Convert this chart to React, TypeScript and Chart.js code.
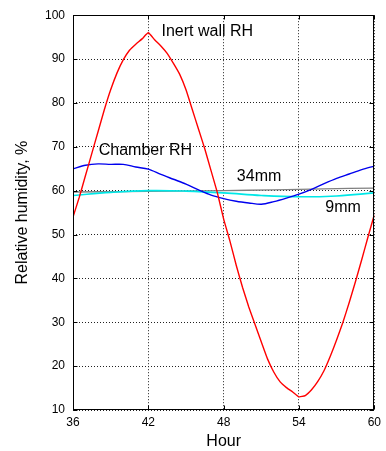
import React, { useEffect, useRef } from "react";
import { Chart, registerables } from "chart.js";

Chart.register(...registerables);

// Inert wall RH (every half hour)
const hoursHalf = [
  36, 36.5, 37, 37.5, 38, 38.5, 39, 39.5, 40, 40.5, 41, 41.5, 42, 42.5, 43, 43.5, 44, 44.5, 45, 45.5,
  46, 46.5, 47, 47.5, 48, 48.5, 49, 49.5, 50, 50.5, 51, 51.5, 52, 52.5, 53, 53.5, 54, 54.5, 55, 55.5,
  56, 56.5, 57, 57.5, 58, 58.5, 59, 59.5, 60,
];
const inertWallRH = [
  54, 58.5, 63.5, 68.5, 73.5, 78.5, 83, 86.8, 89.8, 92, 93.4, 94.6, 96, 94.4, 93, 91.3, 89, 86.5, 83, 78.5,
  74, 69.5, 64.5, 59.5, 53.5, 48.5, 43, 38, 33.5, 29.5, 25.5, 21.6, 18.6, 16.4, 15.1, 14.1, 13, 13.3, 14.6, 16.5,
  19, 22.3, 26, 30, 34.5, 39.3, 44.3, 49.5, 54.5,
];

// Chamber RH (hourly)
const hoursFull = [36, 37, 38, 39, 40, 41, 42, 43, 44, 45, 46, 47, 48, 49, 50, 51, 52, 53, 54, 55, 56, 57, 58, 59, 60];
const chamberRH = [
  65, 65.8, 66.1, 66, 66, 65.4, 64.9, 63.7, 62.6, 61.5, 60.2, 59, 58.2, 57.6, 57.2, 56.9, 57.5, 58.3, 59.2,
  60.3, 61.6, 62.8, 63.8, 64.8, 65.6,
];

// 34mm sensor
const hours34 = [36, 40, 44, 48, 52, 56, 60];
const rh34mm = [59.7, 59.8, 59.9, 60.0, 60.2, 60.4, 60.6];

// 9mm sensor
const hours9 = [36, 39, 42, 45, 48, 51, 54, 57, 60];
const rh9mm = [58.9, 59.6, 60.0, 59.9, 59.5, 58.9, 58.6, 58.8, 59.5];

const xTicks = [36, 42, 48, 54, 60];
const yTicks = [10, 20, 30, 40, 50, 60, 70, 80, 90, 100];

const curveLabels = [
  { text: "Inert wall RH", x: 43.05, y: 96.2 },
  { text: "Chamber RH", x: 38.05, y: 69.2 },
  { text: "34mm", x: 49.05, y: 63.1 },
  { text: "9mm", x: 56.1, y: 56.1 },
];

const FONT = "'Liberation Sans', Arial, Helvetica, sans-serif";

const pts = (xs: number[], ys: number[]) => xs.map((x, i) => ({ x, y: ys[i] }));

const framePlugin = {
  id: "frame",
  afterDraw(chart: any) {
    const { ctx, chartArea: a, scales } = chart;
    ctx.save();
    ctx.strokeStyle = "#000";
    ctx.lineWidth = 1;
    const L = Math.round(a.left) + 0.5;
    const R = Math.round(a.right) - 0.5;
    const T = Math.round(a.top) + 0.5;
    const B = Math.round(a.bottom) - 0.5;
    ctx.strokeRect(L, T, R - L, B - T);
    ctx.beginPath();
    const tl = 4;
    xTicks.forEach((v) => {
      const px = Math.round(scales.x.getPixelForValue(v)) + 0.5;
      ctx.moveTo(px, B);
      ctx.lineTo(px, B - tl);
      ctx.moveTo(px, T);
      ctx.lineTo(px, T + tl);
    });
    yTicks.forEach((v) => {
      const py = Math.round(scales.y.getPixelForValue(v)) + 0.5;
      ctx.moveTo(L, py);
      ctx.lineTo(L + tl, py);
      ctx.moveTo(R, py);
      ctx.lineTo(R - tl, py);
    });
    ctx.stroke();

    ctx.fillStyle = "#000";
    ctx.font = `16px ${FONT}`;
    ctx.textAlign = "left";
    ctx.textBaseline = "middle";
    curveLabels.forEach((l) => {
      ctx.fillText(l.text, scales.x.getPixelForValue(l.x), scales.y.getPixelForValue(l.y));
    });
    ctx.restore();
  },
};

export default function App() {
  const ref = useRef<HTMLCanvasElement | null>(null);

  useEffect(() => {
    if (!ref.current) return;
    const chart = new Chart(ref.current, {
      type: "line",
      data: {
        datasets: [
          {
            label: "Inert wall RH",
            data: pts(hoursHalf, inertWallRH),
            borderColor: "#ff0000",
            borderWidth: 1.4,
            pointRadius: 0,
            tension: 0.15,
          },
          {
            label: "Chamber RH",
            data: pts(hoursFull, chamberRH),
            borderColor: "#0000ee",
            borderWidth: 1.4,
            pointRadius: 0,
            tension: 0.3,
          },
          {
            label: "9mm",
            data: pts(hours9, rh9mm),
            borderColor: "#00e8e8",
            borderWidth: 1.6,
            pointRadius: 0,
            tension: 0.4,
          },
          {
            label: "34mm",
            data: pts(hours34, rh34mm),
            borderColor: "#808080",
            borderWidth: 1.3,
            pointRadius: 0,
            tension: 0.3,
          },
        ],
      },
      options: {
        responsive: false,
        animation: false,
        layout: { padding: { top: 10, right: 10, bottom: 0, left: 0 } },
        plugins: { legend: { display: false }, tooltip: { enabled: false } },
        scales: {
          x: {
            type: "linear",
            min: 36,
            max: 60,
            afterBuildTicks: (s: any) => {
              s.ticks = xTicks.map((v) => ({ value: v }));
            },
            afterFit: (s: any) => {
              s.height = 41;
            },
            ticks: {
              color: "#000",
              padding: 5,
              font: { family: FONT, size: 12 },
              maxRotation: 0,
            },
            grid: { color: "#222", drawTicks: false, lineWidth: 1 },
            border: { display: false, dash: [1, 2] },
            title: {
              display: true,
              text: "Hour",
              color: "#000",
              font: { family: FONT, size: 16 },
              padding: { top: 0, bottom: 0 },
            },
          },
          y: {
            type: "linear",
            min: 10,
            max: 100,
            afterBuildTicks: (s: any) => {
              s.ticks = yTicks.map((v) => ({ value: v }));
            },
            afterFit: (s: any) => {
              s.width = 73;
            },
            ticks: {
              color: "#000",
              padding: 8,
              font: { family: FONT, size: 12 },
            },
            grid: { color: "#222", drawTicks: false, lineWidth: 1 },
            border: { display: false, dash: [1, 2] },
            title: {
              display: true,
              text: "Relative humidity, %",
              color: "#000",
              font: { family: FONT, size: 16 },
              padding: { top: 13, bottom: 0 },
            },
          },
        },
      },
      plugins: [framePlugin],
    });
    return () => chart.destroy();
  }, []);

  return (
    <div style={{ position: "absolute", left: 0, top: 0, width: 386, height: 451, background: "#fff" }}>
      <canvas ref={ref} width={386} height={451} style={{ display: "block" }} />
    </div>
  );
}
